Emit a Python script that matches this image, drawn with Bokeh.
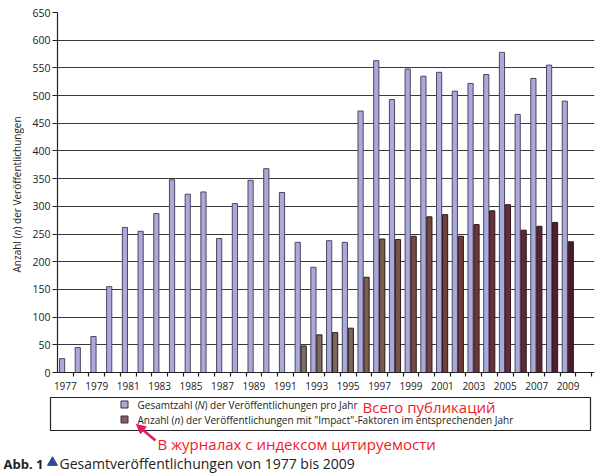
from math import pi
import numpy as np
from bokeh.plotting import figure
from bokeh.models import ColumnDataSource, FixedTicker, Range1d, Label, Arrow, NormalHead
from bokeh.layouts import column, row
from bokeh.transform import dodge
from bokeh.embed import file_html
from bokeh.resources import INLINE

# ---------------- data ----------------
years = [1977, 1978, 1979, 1980, 1981, 1982, 1983, 1984, 1985, 1986, 1987,
         1988, 1989, 1990, 1991, 1992, 1993, 1994, 1995, 1996, 1997, 1998,
         1999, 2000, 2001, 2002, 2003, 2004, 2005, 2006, 2007, 2008, 2009]
total = [25, 45, 65, 155, 262, 255, 287, 348, 322, 326, 242,
         305, 347, 368, 325, 235, 190, 238, 235, 472, 563, 493,
         548, 535, 542, 508, 522, 538, 578, 466, 531, 555, 490]
impact_years = [1992, 1993, 1994, 1995, 1996, 1997, 1998, 1999, 2000,
                2001, 2002, 2003, 2004, 2005, 2006, 2007, 2008, 2009]
impact = [48, 68, 72, 80, 172, 241, 240, 246, 281,
          285, 246, 267, 292, 303, 257, 264, 271, 236]
x_tick_years = [1977, 1979, 1981, 1983, 1985, 1987, 1989, 1991, 1993,
                1995, 1997, 1999, 2001, 2003, 2005, 2007, 2009]
y_ticks = [0, 50, 100, 150, 200, 250, 300, 350, 400, 450, 500, 550, 600, 650]

legend_total = ("Gesamtzahl (", "N", ") der Veröffentlichungen pro Jahr")
legend_impact = ("Anzahl (", "n", ') der Veröffentlichungen mit "Impact"-Faktoren im entsprechenden Jahr')
y_label = ("Anzahl (", "n", ") der Veröffentlichungen")
note_total = "Всего публикаций"
note_impact = "В журналах с индексом цитируемости"
caption_bold = "Abb. 1"
caption_text = "Gesamtveröffentlichungen von 1977 bis 2009"

# ---------------- styles ----------------
FONT = "Open Sans"
TOTAL_FILL = "#aba8da"
TOTAL_LINE = "#4a4862"
IMPACT_LEGEND = "#8c5a5c"
DARK = "#222222"
RED = "#ee1c25"
ARROW = "#e8185a"

W_LEFT = 24
W_MAIN = 574
H_MAIN = 396
H_BOTTOM = 78
TOP_B = 12
BOTTOM_B = 24

anchor_years = [1992, 1997, 2001, 2005, 2009]
anchor_rgb = np.array([[126, 112, 98], [122, 92, 78], [112, 62, 62], [104, 44, 56], [74, 26, 42]])
impact_colors = []
for yr in impact_years:
    rgb = [int(round(np.interp(yr, anchor_years, anchor_rgb[:, k]))) for k in range(3)]
    impact_colors.append("#%02x%02x%02x" % tuple(rgb))


def no_align(f):
    try:
        f.frame_align = False
    except Exception:
        pass


# ---------------- main chart ----------------
p = figure(width=W_MAIN, height=H_MAIN,
           x_range=Range1d(1976.5, 2010.68), y_range=Range1d(0, 650),
           output_backend="svg", toolbar_location=None,
           min_border_left=33, min_border_right=4,
           min_border_top=TOP_B, min_border_bottom=BOTTOM_B)
no_align(p)
p.outline_line_color = None
p.xgrid.visible = False
p.ygrid.ticker = FixedTicker(ticks=y_ticks[1:-1])
p.ygrid.grid_line_color = "#3a3a3a"
p.ygrid.grid_line_width = 1.2

src_total = ColumnDataSource(dict(year=years, total=total))
src_impact = ColumnDataSource(dict(year=impact_years, impact=impact, color=impact_colors))

p.vbar(x=dodge("year", -0.21), top="total", width=0.33, source=src_total,
       fill_color=TOTAL_FILL, line_color=TOTAL_LINE, line_width=1)
p.vbar(x=dodge("year", 0.17), top="impact", width=0.33, source=src_impact,
       fill_color="color", line_color="#2a1a1a", line_width=1)

xa = p.xaxis[0]
xa.ticker = FixedTicker(ticks=x_tick_years, minor_ticks=[y + 0.5 for y in years] + [2010.5])
xa.major_tick_line_color = None
xa.major_tick_out = 4
xa.major_tick_in = 0
xa.minor_tick_out = 4
xa.minor_tick_in = 0
xa.minor_tick_line_color = DARK
xa.minor_tick_line_width = 1.2
xa.major_label_standoff = 5
xa.axis_line_color = DARK
xa.axis_line_width = 1.2
xa.major_label_text_font = FONT
xa.major_label_text_font_size = "10px"
xa.major_label_text_color = DARK

ya = p.yaxis[0]
ya.ticker = FixedTicker(ticks=y_ticks)
ya.minor_tick_line_color = None
ya.major_tick_out = 5
ya.major_tick_in = 0
ya.major_tick_line_color = DARK
ya.major_tick_line_width = 1.2
ya.major_label_standoff = 2
ya.axis_line_color = DARK
ya.axis_line_width = 1.2
ya.major_label_text_font = FONT
ya.major_label_text_font_size = "10.5px"
ya.major_label_text_color = DARK

# ---------------- rotated y-axis label (own narrow panel) ----------------
PAGE_H = H_MAIN + H_BOTTOM  # pixel coordinates: y = PAGE_H - Y
pl = figure(width=W_LEFT, height=H_MAIN,
            x_range=Range1d(0, W_LEFT),
            y_range=Range1d(PAGE_H - (H_MAIN - BOTTOM_B), PAGE_H - TOP_B),
            output_backend="svg", toolbar_location=None,
            min_border_left=0, min_border_right=0,
            min_border_top=TOP_B, min_border_bottom=BOTTOM_B,
            x_axis_type=None, y_axis_type=None)
no_align(pl)
pl.outline_line_color = None
pl.grid.visible = False

y_start = PAGE_H - 272
for piece, off in zip(y_label, [0, 37, 43]):
    pl.add_layout(Label(x=16, y=y_start + off, text=piece, angle=pi / 2,
                        text_align="left", text_baseline="middle",
                        text_font=FONT, text_font_size="10px", text_color=DARK,
                        text_font_style="italic" if piece == "n" else "normal"))

# ---------------- legend / notes / caption ----------------
p2 = figure(width=W_LEFT + W_MAIN, height=H_BOTTOM,
            x_range=Range1d(0, W_LEFT + W_MAIN), y_range=Range1d(0, H_BOTTOM),
            output_backend="svg", toolbar_location=None,
            min_border_left=0, min_border_right=0, min_border_top=0, min_border_bottom=0,
            x_axis_type=None, y_axis_type=None)
no_align(p2)
p2.outline_line_color = None
p2.grid.visible = False

p2.quad(left=50, right=590, top=PAGE_H - 397, bottom=PAGE_H - 430, fill_color="white",
        line_color=DARK, line_width=1.2)
p2.scatter(x=[124, 124], y=[PAGE_H - 404, PAGE_H - 419], marker="square", size=7,
           fill_color=[TOTAL_FILL, IMPACT_LEGEND], line_color="#333333", line_width=1)


def add_text(fig, x, y, text, size="10px", color=DARK, style="normal"):
    fig.add_layout(Label(x=x, y=y, text=text, text_align="left", text_baseline="middle",
                         text_font=FONT, text_font_size=size, text_color=color,
                         text_font_style=style))


y1 = PAGE_H - 404
y2 = PAGE_H - 419
add_text(p2, 137, y1, legend_total[0])
add_text(p2, 197, y1, legend_total[1], style="italic")
add_text(p2, 204, y1, legend_total[2])
add_text(p2, 137, y2, legend_impact[0])
add_text(p2, 174, y2, legend_impact[1], style="italic")
add_text(p2, 180, y2, legend_impact[2])

add_text(p2, 362, PAGE_H - 406, note_total, size="15px", color=RED)
add_text(p2, 157, PAGE_H - 443, note_impact, size="15px", color=RED)

p2.add_layout(Arrow(end=NormalHead(size=9, fill_color=ARROW, line_color=ARROW),
                    x_start=155, y_start=PAGE_H - 440, x_end=136, y_end=PAGE_H - 424,
                    line_color=ARROW, line_width=2.5))

yc = PAGE_H - 463
add_text(p2, 3, yc, caption_bold, size="13px", style="bold")
p2.scatter(x=[52], y=[yc + 1], marker="triangle", size=10, fill_color="#2d4a9b", line_color="#2d4a9b")
add_text(p2, 59, yc, caption_text, size="14px")

layout = column(row(pl, p, spacing=0), p2, spacing=0)
open("out.html", "w").write(file_html(layout, INLINE))
